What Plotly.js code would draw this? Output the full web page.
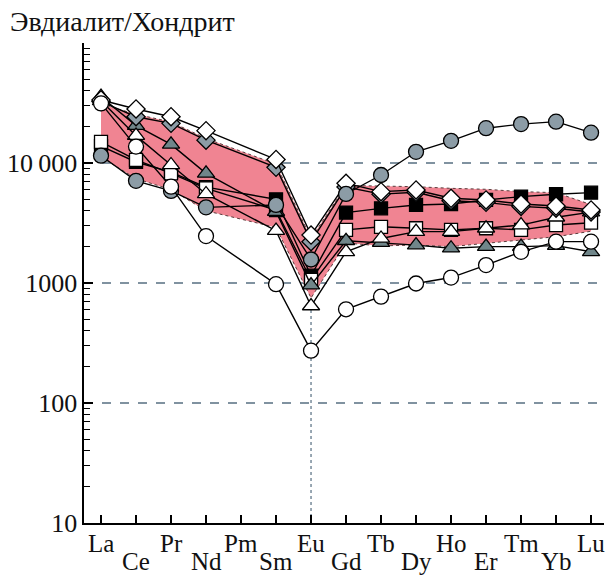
<!DOCTYPE html>
<html>
<head>
<meta charset="utf-8">
<script src="https://cdn.plot.ly/plotly-3.0.1.min.js"></script>
<style>html,body{margin:0;padding:0;background:#fff;}#chart{width:607px;height:576px;}</style>
</head>
<body>
<div id="chart"></div>
<script>
// Rare-earth elements (x categories)
const elements = ['La','Ce','Pr','Nd','Pm','Sm','Eu','Gd','Tb','Dy','Ho','Er','Tm','Yb','Lu'];

// Chondrite-normalised values (null = no data for Pm)
const whiteDiamond  = [33500, 28200, 24300, 18600, null, 10700, 2510, 6770, 5770, 5960, 5080, 4920, 4550, 4380, 4060];
const greyDiamond   = [32500, 24300, 21400, 15500, null, 9200, 2210, 6300, 5500, 5700, 4850, 4700, 4350, 4200, 3900];
const greyTriangle  = [35700, 20500, 14300, 8200, null, 3930, 960, 2250, 2170, 2070, 1950, 2010, 2010, 2050, 1820];
const whiteTriangle = [33000, 16900, 9630, 5520, null, 2730, 643, 1820, 2350, 2680, 2680, 2860, 3040, 3530, 3900];
const whiteCircle   = [31400, 13700, 6350, 2460, null, 977, 273, 604, 770, 990, 1110, 1410, 1820, 2210, 2210];
const greyCircle    = [11500, 7100, 5850, 4270, null, 4470, 1570, 5520, 7940, 12400, 15300, 19500, 21100, 22100, 17900];
const whiteSquare   = [15000, 10600, 8200, 6150, null, 4060, 1060, 2770, 2940, 2860, 2770, 2860, 2770, 3040, 3180];
const blackSquare   = [13800, 10200, 8400, 6300, null, 4980, 1150, 3860, 4190, 4470, 4550, 4920, 5250, 5490, 5660];

// Pink field (envelope)
const bandUpper = [31000, 25500, 22000, 16000, null, 9800, 2350, 6500, 6400, 6350, 6150, 6040, 5770, 5660, 4500];
const bandLower = [11200, 7400, 6000, 4000, null, 2900, 750, 2150, 2040, 2070, 2010, 2140, 2280, 2430, 2700];

// Axis tick labels
const yTickVals = [10, 100, 1000, 10000];
const yTickText = ['10', '100', '1000', '10\u2009000'];

const GREY = 'rgb(140,156,166)';
const GREYT = 'rgb(112,134,138)';
const GRID = 'rgb(128,146,160)';
const FONT = '"Liberation Serif", "Times New Roman", serif';

// band polygon (skip missing Pm)
const bx = [], bu = [], bl = [];
elements.forEach((e, i) => { if (bandUpper[i] !== null) { bx.push(e); bu.push(bandUpper[i]); bl.push(bandLower[i]); } });
const band = {
  x: bx.concat(bx.slice().reverse()),
  y: bu.concat(bl.slice().reverse()),
  mode: 'lines', fill: 'toself', fillcolor: 'rgb(240,132,146)',
  line: {color: 'rgb(90,60,60)', width: 1, dash: 'dot'},
  hoverinfo: 'skip', showlegend: false
};

const euLine = {
  x: ['Eu', 'Eu'], y: [10, whiteTriangle[6]],
  mode: 'lines', line: {color: GRID, width: 1.6, dash: 'dot'},
  showlegend: false, hoverinfo: 'skip'
};

function series(y, symbol, fill, size) {
  return {
    x: elements, y: y, mode: 'lines+markers', connectgaps: true,
    line: {color: '#000', width: 1.4},
    marker: {symbol: symbol, size: size, color: fill, line: {color: '#000', width: 1.3}},
    showlegend: false
  };
}

const traces = [
  band, euLine,
  series(blackSquare, 'square', '#000', 13),
  series(whiteSquare, 'square', '#fff', 13),
  series(greyTriangle, 'triangle-up', GREYT, 15),
  series(whiteTriangle, 'triangle-up', '#fff', 15),
  series(greyDiamond, 'diamond', GREY, 14),
  series(whiteDiamond, 'diamond', '#fff', 14),
  series(greyCircle, 'circle', GREY, 15),
  series(whiteCircle, 'circle', '#fff', 15)
];

// minor ticks for log axis
const minorVals = [];
for (let d = 10; d < 100000; d *= 10) for (let k = 2; k <= 9; k++) minorVals.push(d * k);

// two-row element labels
const annotations = elements.map((e, i) => ({
  x: e, xref: 'x', y: i % 2 === 0 ? -0.042 : -0.081, yref: 'paper',
  text: e, showarrow: false, xanchor: 'center', yanchor: 'middle', borderpad: 0,
  font: {family: FONT, size: 25, color: '#111'}
}));

const layout = {
  width: 607, height: 576,
  margin: {l: 84, r: 3, t: 43, b: 53},
  paper_bgcolor: '#fff', plot_bgcolor: '#fff',
  title: {text: 'Эвдиалит/Хондрит', x: 10/607, xref: 'container', xanchor: 'left',
          y: 1 - 21/576, yref: 'container', yanchor: 'middle', font: {family: FONT, size: 28, color: '#111'}},
  xaxis: {
    type: 'category', categoryorder: 'array', categoryarray: elements,
    range: [-0.486, 14.37], tickvals: elements, showticklabels: false,
    ticks: 'inside', ticklen: 8, tickwidth: 1.3, tickcolor: '#000',
    showline: true, linecolor: '#000', linewidth: 1.6, showgrid: false, zeroline: false
  },
  yaxis: {
    type: 'log', range: [1, 5], tickvals: yTickVals, ticktext: yTickText,
    ticks: 'inside', ticklen: 9, tickwidth: 1.3, tickcolor: '#000',
    showline: true, linecolor: '#000', linewidth: 1.6,
    showgrid: true, gridcolor: GRID, griddash: 'dash', gridwidth: 1.6,
    minor: {ticks: 'inside', ticklen: 6, tickwidth: 1.2, tickcolor: '#000', tickmode: 'array', tickvals: minorVals, showgrid: false},
    tickfont: {family: FONT, size: 26, color: '#111'},
    zeroline: false
  },
  annotations: annotations,
  font: {family: FONT}
};

Plotly.newPlot('chart', traces, layout, {displayModeBar: false, staticPlot: true});
</script>
</body>
</html>
